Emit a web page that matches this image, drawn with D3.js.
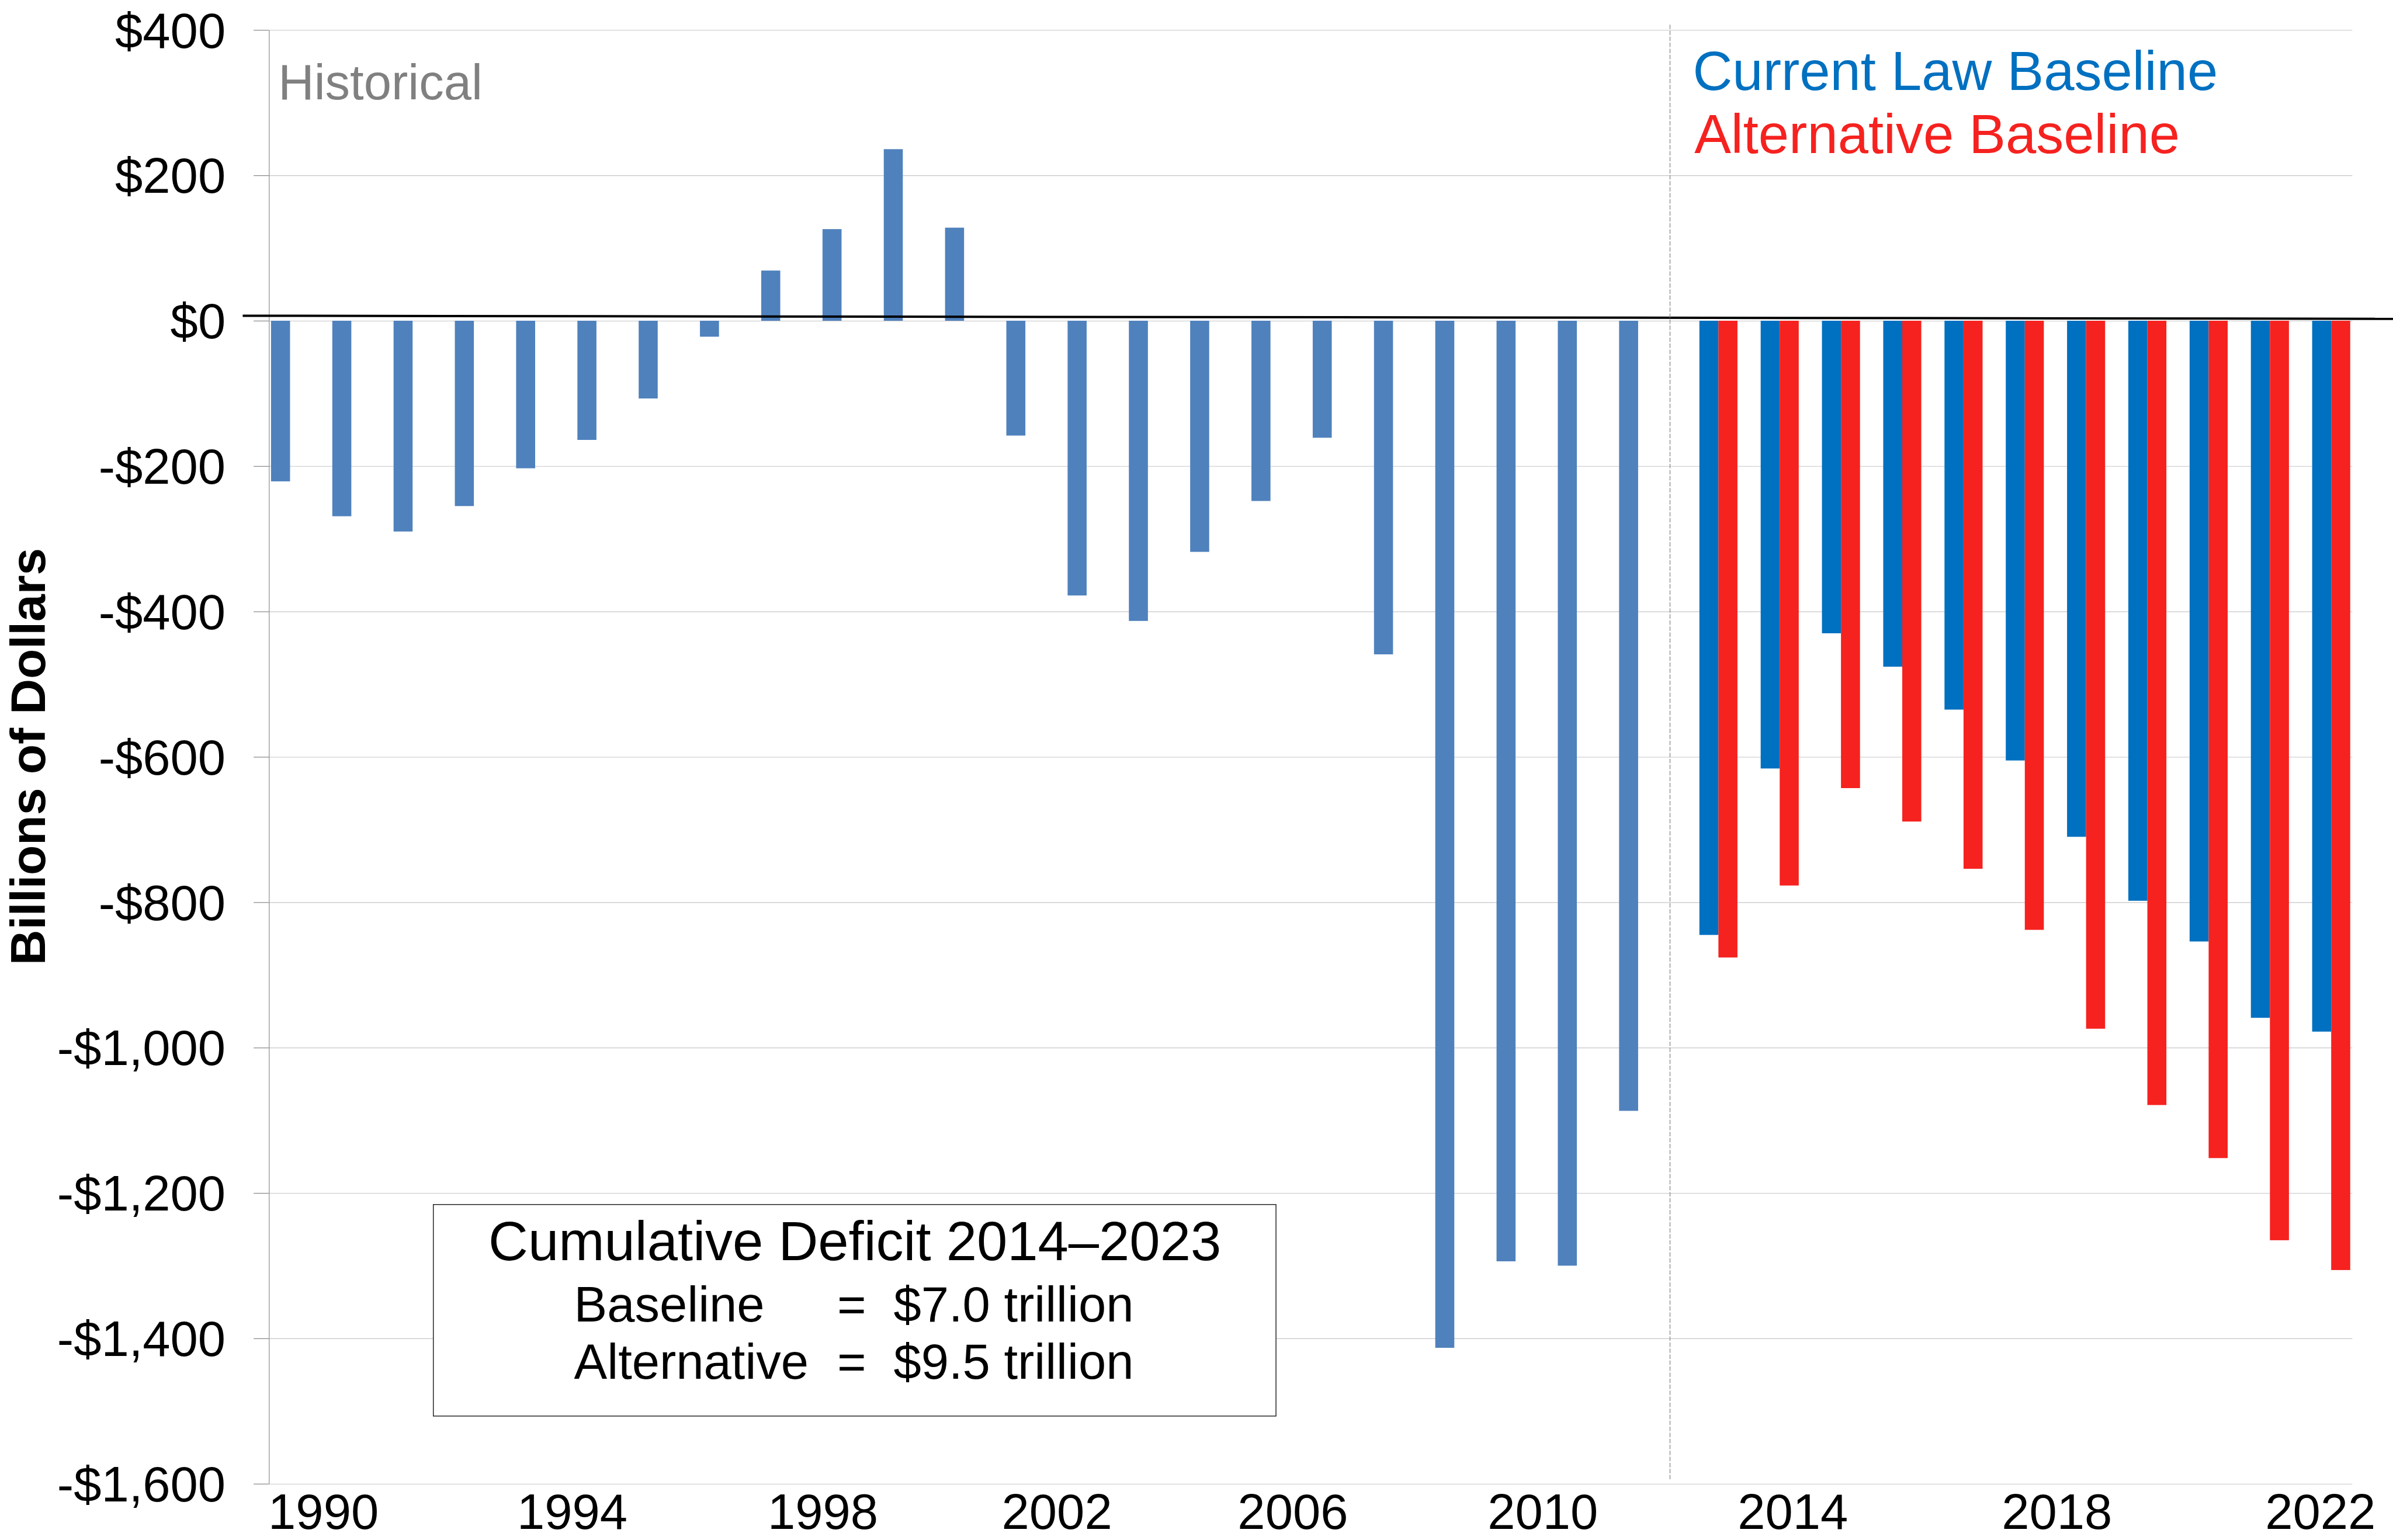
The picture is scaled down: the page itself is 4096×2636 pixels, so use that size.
<!DOCTYPE html>
<html>
<head>
<meta charset="utf-8">
<script src="https://cdn.jsdelivr.net/npm/d3@7"></script>
<style>
body { margin: 0; background: #fff; }
text { font-family: "Liberation Sans", Arial, sans-serif; }
</style>
</head>
<body>
<div id="chart"></div>
<script>

// categories
var years = [1990, 1991, 1992, 1993, 1994, 1995, 1996, 1997, 1998, 1999, 2000, 2001, 2002,
    2003, 2004, 2005, 2006, 2007, 2008, 2009, 2010, 2011, 2012,
    2013, 2014, 2015, 2016, 2017, 2018, 2019, 2020, 2021, 2022, 2023];

// historical deficits (billions)
var histYears = [1990, 1991, 1992, 1993, 1994, 1995, 1996, 1997, 1998, 1999, 2000, 2001, 2002,
    2003, 2004, 2005, 2006, 2007, 2008, 2009, 2010, 2011, 2012];
var histDeficit = [-221, -269, -290, -255, -203, -164, -107, -22, 69, 126, 236, 128, -158,
    -378, -413, -318, -248, -161, -459, -1413, -1294, -1300, -1087];

// projections
var projYears = [2013, 2014, 2015, 2016, 2017, 2018, 2019, 2020, 2021, 2022, 2023];
var currentLaw = [-845, -616, -430, -476, -535, -605, -710, -798, -854, -959, -978];
var alternative = [-876, -777, -643, -689, -754, -838, -974, -1079, -1152, -1265, -1306];

var seriesKeys = ['hist', 'cur', 'alt'];
var seriesColors = { hist: '#4F81BD', cur: '#0070C0', alt: '#F5221F' };

// axis ticks
var yTicks = [400, 200, 0, -200, -400, -600, -800, -1000, -1200, -1400, -1600];
var xLabels = ['1990', '1994', '1998', '2002', '2006', '2010', '2014', '2018', '2022'];
// where each year label sits, in year units along the axis
var xLabelAt = [1990.89, 1994.95, 1999.04, 2002.86, 2006.71, 2010.79, 2014.87, 2019.18, 2023.48];

var legendNames = ['Current Law Baseline', 'Alternative Baseline'];
var boxTitle = 'Cumulative Deficit 2014\u20132023';
var boxNames = ['Baseline', 'Alternative'];
var boxValues = ['$7.0 trillion', '$9.5 trillion'];

function drawChart()
{
    var S = 0.534;
    var W = 4096, H = 2636;
    var left = 862 * S, right = 7540 * S, top = 96 * S, bottom = 4756 * S;
    var fs = 85;

    var svg = d3.select('#chart').append('svg')
        .attr('width', W)
        .attr('height', H)
        .style('display', 'block');

    var x = d3.scaleBand().domain(years).range([left, right]).padding(0);
    var slot = d3.scaleBand().domain(seriesKeys).range([0, x.bandwidth()])
        .paddingInner(0).paddingOuter(0.11);
    var y = d3.scaleLinear().domain([-1600, 400]).range([bottom, top]);
    var yearPos = d3.scaleLinear().domain([years[0], years[years.length - 1] + 1]).range([left, right]);

    var money = function (v) {
        return v < 0 ? '-$' + d3.format(',')(-v) : '$' + d3.format(',')(v);
    };

    // gridlines
    var grid = svg.append('g')
        .attr('transform', `translate(${left},0)`)
        .call(d3.axisLeft(y).tickValues(yTicks).tickSize(-(right - left)).tickFormat(''));
    grid.select('.domain').remove();
    grid.selectAll('line').attr('stroke', '#c6c6c6').attr('stroke-width', 1.1);

    // bars
    var histData = histYears.map((d, i) => ({ year: d, key: 'hist', v: histDeficit[i] }));
    var projData = [];
    projYears.forEach((d, i) => {
        projData.push({ year: d, key: 'cur', v: currentLaw[i] });
        projData.push({ year: d, key: 'alt', v: alternative[i] });
    });

    svg.append('g').selectAll('rect')
        .data(histData.concat(projData))
        .enter()
        .append('rect')
        .attr('x', d => x(d.year) + slot(d.key))
        .attr('width', slot.bandwidth())
        .attr('y', d => y(Math.max(0, d.v)))
        .attr('height', d => Math.abs(y(d.v) - y(0)))
        .attr('fill', d => seriesColors[d.key]);

    // left axis with ticks and labels
    var ax = svg.append('g')
        .attr('transform', `translate(${left},0)`)
        .call(d3.axisLeft(y).tickValues(yTicks).tickSize(49 * S).tickSizeOuter(0)
            .tickPadding(48).tickFormat(money));
    ax.select('.domain').attr('stroke', '#8c8c8c').attr('stroke-width', 1.2);
    ax.selectAll('line').attr('stroke', '#858585').attr('stroke-width', 1.2);
    ax.selectAll('text')
        .attr('dy', '0.35em')
        .style('font-size', fs + 'px')
        .attr('fill', '#000');

    // black zero line
    svg.append('line')
        .attr('x1', 778 * S).attr('y1', y(0) - 16 * S)
        .attr('x2', W).attr('y2', y(0) - 6 * S)
        .attr('stroke', '#000')
        .attr('stroke-width', 4);

    // divider between history and projections
    var divX = ((x(histYears[histYears.length - 1]) + slot('hist') + slot.bandwidth()) +
        (x(projYears[0]) + slot('cur'))) / 2 + 4 * S;
    svg.append('line')
        .attr('x1', divX).attr('x2', divX)
        .attr('y1', 79 * S).attr('y2', 4742 * S)
        .attr('stroke', '#808080')
        .attr('stroke-width', 1.2)
        .attr('stroke-dasharray', '7.5,2.8');

    // year labels
    svg.append('g').selectAll('text')
        .data(xLabels)
        .enter()
        .append('text')
        .attr('x', (d, i) => yearPos(xLabelAt[i]))
        .attr('y', H - 19)
        .attr('text-anchor', 'middle')
        .style('font-size', fs + 'px')
        .text(d => d);

    // y title
    svg.append('text')
        .attr('transform', `translate(${77},${2425 * S}) rotate(-90)`)
        .attr('text-anchor', 'middle')
        .style('font-size', '84px')
        .style('font-weight', 'bold')
        .text('Billions of Dollars');

    svg.append('text')
        .attr('x', 892 * S)
        .attr('y', 319 * S)
        .attr('fill', '#808080')
        .style('font-size', fs + 'px')
        .text('Historical');

    // legend
    svg.append('g').selectAll('text')
        .data(legendNames)
        .enter()
        .append('text')
        .attr('x', (d, i) => (i == 0 ? 5426 : 5431) * S)
        .attr('y', (d, i) => (i == 0 ? 288 : 490) * S)
        .attr('fill', (d, i) => i == 0 ? seriesColors.cur : seriesColors.alt)
        .style('font-size', '94px')
        .text(d => d);

    // cumulative box
    svg.append('rect')
        .attr('x', 1389 * S)
        .attr('y', 3861 * S)
        .attr('width', (4090 - 1389) * S)
        .attr('height', (4539 - 3861) * S)
        .attr('fill', '#fff')
        .attr('stroke', '#262626')
        .attr('stroke-width', 1.5);

    svg.append('text')
        .attr('x', 2740 * S)
        .attr('y', 4040 * S)
        .attr('text-anchor', 'middle')
        .style('font-size', '94px')
        .text(boxTitle);

    var rowY = [4236 * S, 4419 * S];
    var rows = svg.append('g').selectAll('g')
        .data(boxNames)
        .enter()
        .append('g');
    rows.append('text')
        .attr('x', 1840 * S)
        .attr('y', (d, i) => rowY[i])
        .style('font-size', fs + 'px')
        .text(d => d);
    rows.append('text')
        .attr('x', 2730 * S)
        .attr('y', (d, i) => rowY[i])
        .attr('text-anchor', 'middle')
        .style('font-size', fs + 'px')
        .text('=');
    rows.append('text')
        .attr('x', 2864 * S)
        .attr('y', (d, i) => rowY[i])
        .style('font-size', fs + 'px')
        .text((d, i) => boxValues[i]);
}
drawChart()
</script>
</body>
</html>
